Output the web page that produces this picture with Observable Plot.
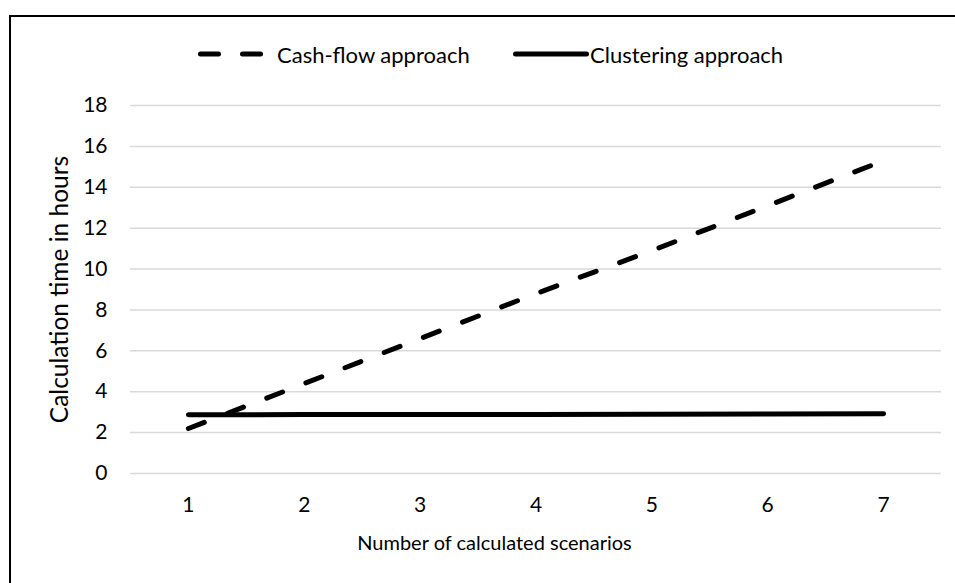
<!DOCTYPE html>
<html>
<head>
<meta charset="utf-8">
<script src="https://cdn.jsdelivr.net/npm/d3@7"></script>
<script src="https://cdn.jsdelivr.net/npm/@observablehq/plot@0.6"></script>
<style>
  html, body { margin: 0; padding: 0; background: #fff; overflow: hidden; }
  #wrap { position: relative; width: 955px; height: 583px; overflow: hidden; font-family: Lato, "Open Sans", sans-serif; }
  #frame { position: absolute; left: 9px; top: 15px; width: 980px; height: 600px; border: 2px solid #000; box-sizing: border-box; pointer-events: none; }
  #legend { position: absolute; left: 0; top: 0; width: 955px; height: 80px; }
  .item { position: absolute; top: 42px; height: 24px; display: flex; align-items: center; font-size: 22px; color: #000; white-space: nowrap; }
  #chart { position: absolute; left: 0; top: 80px; }
</style>
</head>
<body>
<div id="wrap">
  <div id="legend"></div>
  <div id="chart"></div>
  <div id="frame"></div>
</div>
<script>
const scenarios = [1, 2, 3, 4, 5, 6, 7];
const cashFlowHours = [2.2, 4.4, 6.6, 8.8, 10.9, 13.1, 15.3];
const clusteringHours = [2.87, 2.88, 2.88, 2.89, 2.9, 2.91, 2.92];
const yTicks = [0, 2, 4, 6, 8, 10, 12, 14, 16, 18];
const seriesNames = ["Cash-flow approach", "Clustering approach"];
const xTitle = "Number of calculated scenarios";
const yTitle = "Calculation time in hours";

const cash = scenarios.map((s, i) => ({x: s, y: cashFlowHours[i]}));
const clus = scenarios.map((s, i) => ({x: s, y: clusteringHours[i]}));

const plot = Plot.plot({
  width: 955,
  height: 503,
  marginLeft: 130,
  marginRight: 14,
  marginTop: 25,
  marginBottom: 110,
  style: {fontFamily: "Lato, 'Open Sans', sans-serif", fontSize: "21px", color: "#000", background: "transparent"},
  x: {domain: [0.5, 7.5], ticks: scenarios, tickSize: 0, tickPadding: 24, label: null, tickFormat: d3.format("d")},
  y: {domain: [0, 18], ticks: yTicks, tickSize: 0, tickPadding: 23, label: null},
  marks: [
    Plot.ruleY(yTicks, {stroke: "#d9d9d9", strokeWidth: 1.5}),
    Plot.line(clus, {x: "x", y: "y", stroke: "#000", strokeWidth: 5, strokeLinecap: "round"}),
    Plot.line(cash, {x: "x", y: "y", stroke: "#000", strokeWidth: 5, strokeLinecap: "round", strokeDasharray: "17,25"}),
    Plot.text([yTitle], {frameAnchor: "left", textAnchor: "middle", dx: -70, rotate: -90, fontSize: 24.5, fill: "#000"}),
    Plot.text([xTitle], {frameAnchor: "bottom", textAnchor: "middle", dx: -41.5, dy: 76, fontSize: 20, fill: "#000"})
  ]
});
document.getElementById("chart").appendChild(plot);

// Legend
const legend = document.getElementById("legend");
function addItem(left, sampleWidth, dashed, name) {
  const item = document.createElement("div");
  item.className = "item";
  item.style.left = left + "px";
  const svg = d3.create("svg").attr("width", sampleWidth + 4).attr("height", 14).style("margin-right", dashed ? "9px" : "1px");
  svg.append("line").attr("x1", 2.5).attr("x2", sampleWidth + 1.5).attr("y1", 7).attr("y2", 7)
    .attr("stroke", "#000").attr("stroke-width", 5).attr("stroke-linecap", "round")
    .attr("stroke-dasharray", dashed ? "18,24" : null);
  item.appendChild(svg.node());
  const span = document.createElement("span");
  span.textContent = name;
  item.appendChild(span);
  legend.appendChild(item);
}
addItem(198, 66, true, seriesNames[0]);
addItem(513, 72, false, seriesNames[1]);
</script>
</body>
</html>
